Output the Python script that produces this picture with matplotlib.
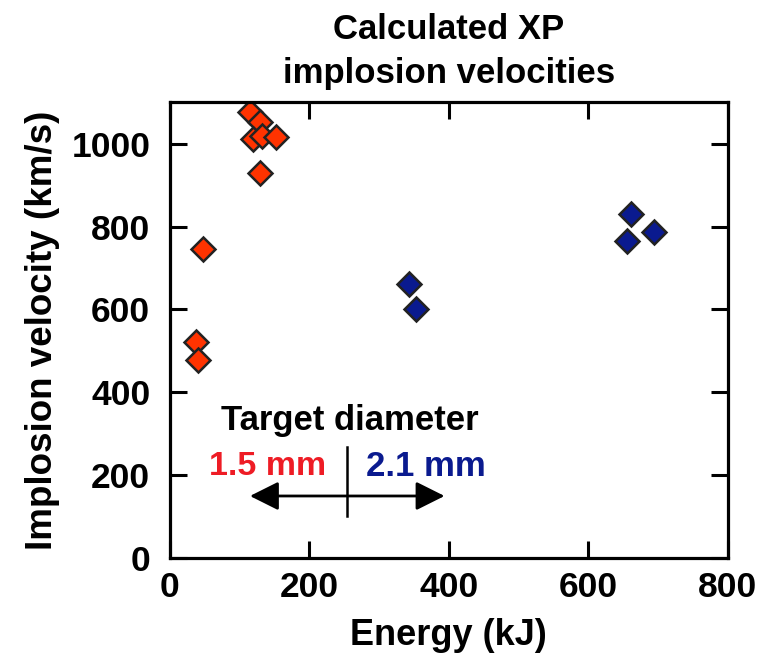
import matplotlib
matplotlib.use("Agg")
import matplotlib.pyplot as plt

# Data
red_energy = [115, 129, 119, 132, 153, 130, 47, 37, 40]
red_velocity = [1077, 1051, 1010, 1019, 1017, 930, 746, 522, 478]
blue_energy = [343, 353, 662, 694, 655]
blue_velocity = [662, 601, 831, 787, 766]
x_ticks = [0, 200, 400, 600, 800]
y_ticks = [0, 200, 400, 600, 800, 1000]

plt.rcParams['font.family'] = ['Liberation Sans', 'DejaVu Sans']
plt.rcParams['font.weight'] = 'bold'

fig = plt.figure(figsize=(7.75, 6.59), dpi=100)
ax = fig.add_axes([0.219, 0.153, 0.720, 0.692])

ax.plot(red_energy, red_velocity, 'D', ms=12, mfc='#ff3300', mec='#222222', mew=1.8, ls='none')
ax.plot(blue_energy, blue_velocity, 'D', ms=12, mfc='#0a1a8f', mec='#222222', mew=1.8, ls='none')

ax.set_xlim(0, 800)
ax.set_ylim(0, 1100)
ax.set_xticks(x_ticks)
ax.set_yticks(y_ticks)
ax.tick_params(direction='in', length=12, width=2.2, top=True, right=True, labelsize=25.5)
ax.tick_params(axis='y', pad=14)
ax.tick_params(axis='x', pad=9)
for lab in ax.get_xticklabels() + ax.get_yticklabels():
    lab.set_fontweight('bold')
for s in ax.spines.values():
    s.set_linewidth(2.3)

ax.set_xlabel('Energy (kJ)', fontsize=26, fontweight='bold', labelpad=10)
ax.set_ylabel('Implosion velocity (km/s)', fontsize=26.5, fontweight='bold', labelpad=8)
ax.set_title('Calculated XP\nimplosion velocities', fontsize=25, fontweight='bold', pad=14, linespacing=1.4)

# annotation
ax.text(258, 333, 'Target diameter', ha='center', va='center', fontsize=25, fontweight='bold', color='black')
ax.text(224, 222, '1.5 mm', ha='right', va='center', fontsize=24.5, fontweight='bold', color='#ee1c25')
ax.text(281, 222, '2.1 mm', ha='left', va='center', fontsize=25, fontweight='bold', color='#0a1a8f')
ax.plot([254, 254], [101, 268], color='black', lw=1.8)
ax.annotate('', xy=(115, 150), xytext=(394, 150),
            arrowprops=dict(arrowstyle='<|-|>, head_length=0.8, head_width=0.4', color='black', lw=2, mutation_scale=22, shrinkA=0, shrinkB=0))

fig.savefig('out.png', dpi=100)
